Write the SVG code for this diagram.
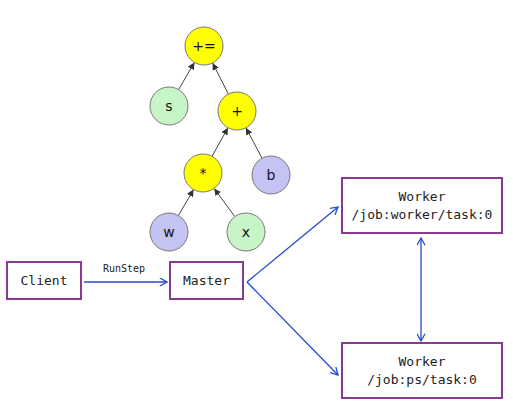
<svg xmlns="http://www.w3.org/2000/svg" width="513" height="407" viewBox="0 0 513 407">
<defs>
<style>
.op{fill:#ffff00;stroke:#777;stroke-width:1}
.gr{fill:#c8f5c8;stroke:#777;stroke-width:1}
.bl{fill:#c4c4f4;stroke:#777;stroke-width:1}
.ct{font-family:"DejaVu Sans","Liberation Sans",sans-serif;font-size:14px;fill:#111;text-anchor:middle}
.box{fill:#fff;stroke:#8a3a94;stroke-width:2}
.bt{font-family:"DejaVu Sans Mono","Liberation Mono",monospace;font-size:13px;fill:#222;text-anchor:middle}
.te{stroke:#444;stroke-width:1;fill:none;marker-end:url(#ah)}
.be{stroke:#2747d0;stroke-width:1.3;fill:none}
</style>
<marker id="ah" viewBox="0 0 10 10" refX="10" refY="5" markerWidth="7" markerHeight="7" markerUnits="userSpaceOnUse" orient="auto">
<path d="M0,0 L10,5 L0,10 z" fill="#333"/>
</marker>
<marker id="bh" viewBox="0 0 10 10" refX="9" refY="5" markerWidth="9" markerHeight="9" markerUnits="userSpaceOnUse" orient="auto-start-reverse">
<path d="M1,0.5 L9,5 L1,9.5" fill="none" stroke="#2747d0" stroke-width="1.4"/>
</marker>
</defs>
<rect width="513" height="407" fill="#fff"/>
<g id="connectors">
<line class="te" x1="178.6" y1="89.6" x2="194.4" y2="62.4"/>
<line class="te" x1="228.4" y1="94.1" x2="212.6" y2="63"/>
<line class="te" x1="212.1" y1="156.3" x2="227.9" y2="127.7"/>
<line class="te" x1="262.1" y1="158.2" x2="245.9" y2="127.8"/>
<line class="te" x1="178.5" y1="215.5" x2="193.5" y2="189.5"/>
<line class="te" x1="234.8" y1="216.6" x2="214.2" y2="188.4"/>
<line class="be" x1="84" y1="282" x2="167" y2="282" marker-end="url(#bh)"/>
<line class="be" x1="247" y1="282" x2="338" y2="207" marker-end="url(#bh)"/>
<line class="be" x1="247" y1="282" x2="338" y2="375" marker-end="url(#bh)"/>
<line class="be" x1="421" y1="238" x2="421" y2="341" marker-start="url(#bh)" marker-end="url(#bh)"/>
<text x="124" y="272" font-family="DejaVu Sans Mono, Liberation Mono, monospace" font-size="10" fill="#222" text-anchor="middle">RunStep</text>
</g>
<g id="n-assign"><circle class="op" cx="204" cy="46" r="19"/><text class="ct" x="204" y="51">+=</text></g>
<g id="n-s"><circle class="gr" cx="169" cy="106" r="19"/><text class="ct" x="169" y="111">s</text></g>
<g id="n-plus"><circle class="op" cx="237" cy="111" r="19"/><text class="ct" x="237" y="116">+</text></g>
<g id="n-mul"><circle class="op" cx="203" cy="173" r="19"/><text class="ct" x="203" y="178">*</text></g>
<g id="n-b"><circle class="bl" cx="271" cy="175" r="19"/><text class="ct" x="271" y="180">b</text></g>
<g id="n-w"><circle class="bl" cx="169" cy="232" r="19"/><text class="ct" x="169" y="237">w</text></g>
<g id="n-x"><circle class="gr" cx="246" cy="232" r="19"/><text class="ct" x="246" y="237">x</text></g>
<g id="client"><rect class="box" x="7" y="262" width="74" height="37"/><text class="bt" x="44" y="285">Client</text></g>
<g id="master"><rect class="box" x="170" y="262" width="73" height="37"/><text class="bt" x="206.5" y="285">Master</text></g>
<g id="worker1"><rect class="box" x="342" y="178" width="160" height="55"/><text class="bt" x="422" y="201">Worker</text><text class="bt" x="422" y="219">/job:worker/task:0</text></g>
<g id="worker2"><rect class="box" x="342" y="343" width="160" height="55"/><text class="bt" x="422" y="366">Worker</text><text class="bt" x="422" y="384">/job:ps/task:0</text></g>
</svg>
